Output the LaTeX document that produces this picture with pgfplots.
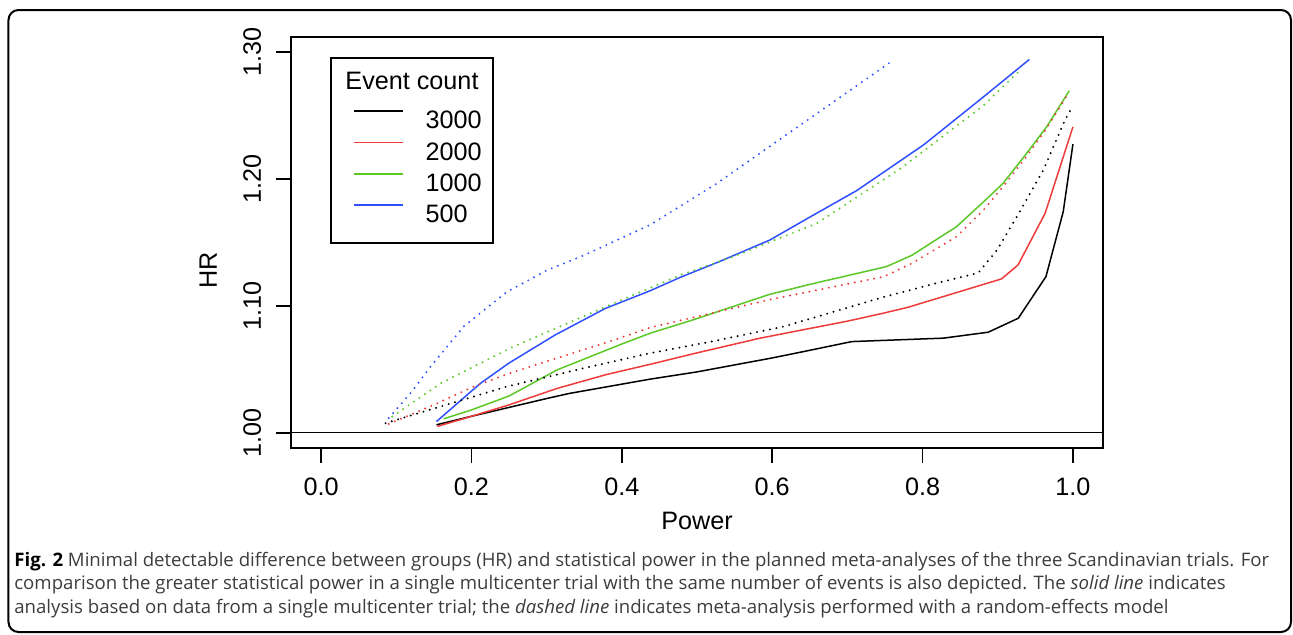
\documentclass[border=0pt]{standalone}
\usepackage{pgfplots}
\pgfplotsset{compat=1.18}
\usepackage{fontspec}
\setmainfont{Liberation Sans}
\newfontfamily\capfont{Open Sans}
\definecolor{rred}{RGB}{238,58,58}
\definecolor{rgreen}{RGB}{92,200,40}
\definecolor{rblue}{RGB}{48,80,255}
\definecolor{capgray}{RGB}{60,60,60}

\begin{document}
\begin{tikzpicture}
\useasboundingbox (-145.5pt,-93pt) rectangle (501pt,224pt);
% outer caption frame
\draw[line width=1pt, rounded corners=5pt] (-141.25pt,-92pt) rectangle (500pt,219pt);

\begin{axis}[
    scale only axis,
    width=406pt, height=205.5pt,
    xmin=-0.04, xmax=1.04,
    ymin=0.988, ymax=1.312,
    axis line style={line width=0.85pt},
    tick pos=left,
    tick align=outside,
    major tick length=7.5pt,
    tick style={line width=0.85pt, black},
    xtick={0,0.2,0.4,0.6,0.8,1},
    xticklabels={0.0,0.2,0.4,0.6,0.8,1.0},
    ytick={1,1.1,1.2,1.3},
    yticklabels={1.00,1.10,1.20,1.30},
    tick label style={font=\fontsize{12.6}{14}\selectfont},
    xticklabel style={anchor=base, yshift=-16pt},
    yticklabel style={xshift=-7.5pt, rotate=90, anchor=base},
    xlabel={Power},
    every axis x label/.style={at={(axis description cs:0.5,0)}, anchor=base, yshift=-40.5pt, font=\fontsize{12.6}{14}\selectfont},
    ylabel={HR},
    every axis y label/.style={at={(axis description cs:0,0.433)}, xshift=-37pt, rotate=90, anchor=base, font=\fontsize{12.6}{14}\selectfont},
    legend style={draw=none, fill=none, inner sep=0pt, outer sep=0pt,
        at={(axis description cs:0.07635,0.8214)}, anchor=north west,
        row sep=6.5pt, column sep=11pt,
        nodes={inner sep=0pt, text height=9pt, text depth=0pt},
        font=\fontsize{12.6}{14}\selectfont},
    legend cell align=left,
    legend image code/.code={\draw[#1] (0pt,4.3pt) -- (24.5pt,4.3pt);},
    solid/.style={line width=0.75pt},
    dots/.style={line width=1.1pt, line cap=round, dash pattern=on 0pt off 3.3pt},
]
% legend samples
\addlegendimage{black, solid}
\addlegendentry{3000}
\addlegendimage{rred, solid}
\addlegendentry{2000}
\addlegendimage{rgreen, solid}
\addlegendentry{1000}
\addlegendimage{rblue, solid}
\addlegendentry{500}

% reference line HR = 1
\addplot[black, line width=0.7pt, forget plot] coordinates {(-0.04,1) (1.04,1)};

% single multicenter trial (solid)
\addplot[black, solid, forget plot] coordinates {
    (0.1535,1.0063) (0.2,1.013) (0.25,1.020) (0.3,1.027) (0.33,1.031) (0.4378,1.0423)
    (0.5,1.048) (0.6,1.059) (0.6416,1.064) (0.7059,1.0719) (0.8276,1.0746) (0.8874,1.0793)
    (0.9273,1.0903) (0.9641,1.1231) (0.9871,1.1743) (1.0,1.2276)
};
\addplot[rred, solid, forget plot] coordinates {
    (0.1545,1.005) (0.2,1.013) (0.25,1.022) (0.314,1.035) (0.38,1.046) (0.4378,1.054)
    (0.5,1.063) (0.584,1.0746) (0.7,1.088) (0.748,1.0943) (0.781,1.099) (0.905,1.1213)
    (0.927,1.1323) (0.963,1.173) (1.0,1.2412)
};
\addplot[rgreen, solid, forget plot] coordinates {
    (0.163,1.011) (0.2,1.018) (0.25,1.029) (0.314,1.0496) (0.4,1.07) (0.4378,1.0785)
    (0.5,1.090) (0.597,1.1092) (0.65,1.117) (0.752,1.131) (0.786,1.140) (0.845,1.1624)
    (0.881,1.182) (0.907,1.1966) (0.938,1.220) (0.965,1.2412) (0.995,1.2695)
};
\addplot[rblue, solid, forget plot] coordinates {
    (0.1535,1.0089) (0.212,1.039) (0.25,1.055) (0.3116,1.0772) (0.378,1.098) (0.4378,1.112)
    (0.478,1.1226) (0.53,1.135) (0.597,1.152) (0.65,1.170) (0.7126,1.191) (0.801,1.2268)
    (0.881,1.2648) (0.942,1.2943)
};

% meta-analysis, random-effects model (dotted)
\addplot[black, dots, forget plot] coordinates {
    (0.0857,1.0076) (0.2474,1.0365) (0.35,1.051) (0.4378,1.0628) (0.52,1.072) (0.615,1.0837)
    (0.748,1.107) (0.819,1.118) (0.874,1.126) (0.899,1.144) (0.925,1.170) (0.9605,1.207)
    (0.9894,1.2465) (1.0,1.258)
};
\addplot[rred, dots, forget plot] coordinates {
    (0.090,1.007) (0.15,1.022) (0.203,1.0365) (0.256,1.048) (0.389,1.073) (0.438,1.083)
    (0.597,1.105) (0.748,1.123) (0.786,1.1336) (0.845,1.1546) (0.881,1.1756) (0.907,1.194)
    (0.938,1.2176) (0.965,1.240) (0.9937,1.2675)
};
\addplot[rgreen, dots, forget plot] coordinates {
    (0.0946,1.0128) (0.159,1.039) (0.256,1.068) (0.389,1.102) (0.478,1.1244) (0.549,1.139)
    (0.659,1.165) (0.770,1.208) (0.881,1.258) (0.93,1.286)
};
\addplot[rblue, dots, forget plot] coordinates {
    (0.090,1.0116) (0.12,1.032) (0.1455,1.052) (0.19,1.084) (0.247,1.111) (0.30,1.128)
    (0.35,1.140) (0.438,1.164) (0.5265,1.1966) (0.615,1.2333) (0.7037,1.270) (0.761,1.2937)
};
\end{axis}

% legend frame and title
\draw[line width=0.85pt] (20pt,102.5pt) rectangle (101pt,195pt);
\node[anchor=base, inner sep=0pt, font=\fontsize{12.6}{14}\selectfont] at (60.5pt,179.5pt) {Event count};

% caption
\begin{scope}[every node/.style={anchor=base west, inner sep=0pt, text=capgray,
    font=\capfont\fontsize{9.3}{11}\selectfont}]
\node at (-138.5pt,-59.3pt) {\textcolor{black}{\bfseries Fig. 2} Minimal detectable difference between groups (HR) and statistical power in the planned meta-analyses of the three Scandinavian trials. For};
\node at (-138.5pt,-70.9pt) {comparison the greater statistical power in a single multicenter trial with the same number of events is also depicted. The \textit{solid line} indicates};
\node at (-138.5pt,-82.5pt) {analysis based on data from a single multicenter trial; the \textit{dashed line} indicates meta-analysis performed with a random-effects model};
\end{scope}
\end{tikzpicture}
\end{document}
